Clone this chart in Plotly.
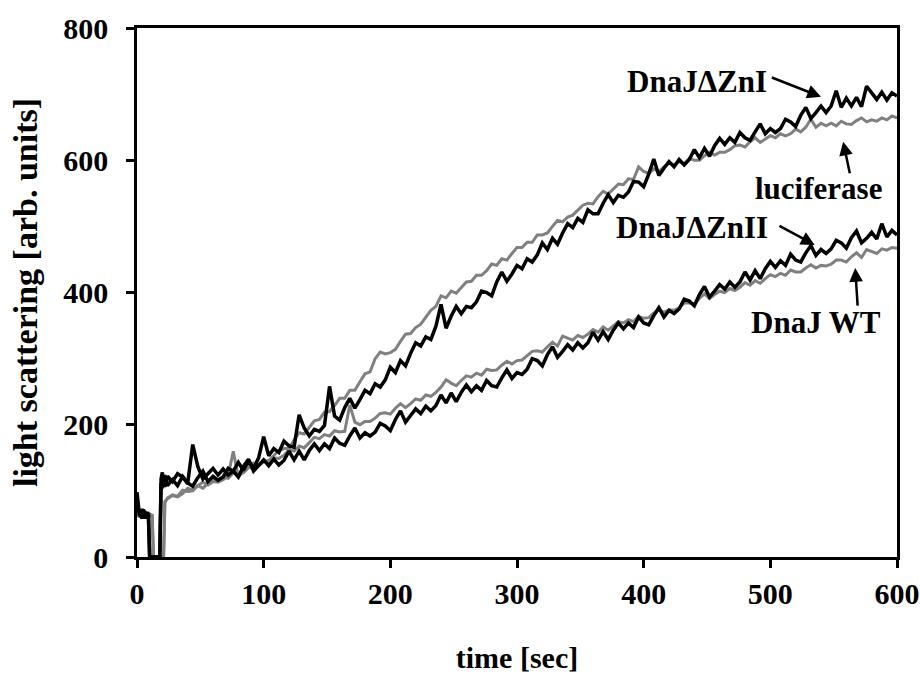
import plotly.graph_objects as go

# time grid [sec]
time_s = list(range(0, 25)) + list(range(28, 601, 4))

# luciferase alone (grey, upper)
luciferase = [72, 64, 60, 66, 62, 68, 63, 66, 61, 67, 64, 62, 65, 0, 0, 0, 0, 0, 0, 0, 0, 0, 84, 86, 88,
              93, 91, 96, 104, 101, 108, 104, 111, 118, 116,
              121, 119, 127, 125, 127, 135, 142, 138, 144, 146,
              153, 161, 164, 164, 177, 188, 186, 196, 206, 208,
              219, 220, 229, 240, 240, 252, 252, 265, 277, 280,
              300, 310, 307, 309, 314, 326, 337, 338, 347, 352,
              362, 373, 379, 395, 392, 402, 399, 408, 416, 417,
              426, 426, 433, 443, 441, 451, 449, 459, 468, 468,
              476, 476, 487, 487, 490, 500, 509, 507, 514, 517,
              524, 532, 535, 534, 545, 553, 549, 556, 564, 563,
              572, 571, 590, 583, 580, 587, 583, 590, 596, 593,
              598, 595, 603, 600, 600, 607, 612, 608, 612, 612,
              616, 622, 623, 620, 628, 634, 627, 632, 637, 634,
              640, 637, 640, 647, 643, 650, 662, 650, 656, 652,
              656, 652, 659, 655, 654, 660, 664, 658, 661, 659,
              664, 661, 667, 664]

# DnaJ dZnI (black, upper)
dnaj_dzn1 = [98, 75, 62, 70, 58, 72, 64, 68, 60, 66, 0, 0, 0, 0, 0, 0, 0, 0, 0, 118, 128, 112, 124, 110, 122,
             114, 126, 121, 111, 170, 137, 118, 126, 134, 124,
             133, 124, 130, 143, 131, 146, 134, 150, 182, 153,
             164, 158, 175, 168, 166, 215, 195, 183, 193, 190,
             199, 258, 213, 207, 226, 240, 225, 238, 252, 247,
             262, 257, 268, 287, 279, 297, 289, 308, 324, 319,
             333, 329, 349, 382, 346, 364, 379, 368, 379, 377,
             386, 402, 400, 395, 416, 431, 417, 428, 441, 436,
             451, 446, 457, 475, 465, 482, 473, 490, 504, 498,
             512, 506, 525, 519, 519, 535, 548, 536, 547, 544,
             552, 568, 567, 560, 579, 602, 577, 588, 598, 590,
             601, 593, 601, 616, 604, 618, 606, 622, 633, 624,
             634, 627, 642, 634, 630, 643, 655, 640, 648, 642,
             648, 662, 658, 651, 668, 680, 663, 672, 682, 672,
             682, 705, 680, 694, 682, 695, 681, 712, 703, 692,
             703, 691, 702, 697]

# DnaJ wild type (grey, lower)
dnaj_wt = [66, 61, 67, 63, 58, 65, 69, 62, 64, 60, 66, 63, 61, 0, 0, 0, 0, 0, 0, 0, 0, 0, 82, 86, 89,
           94, 92, 101, 99, 100, 108, 113, 109, 114, 113,
           117, 123, 160, 121, 130, 138, 132, 139, 145, 143,
           150, 149, 154, 162, 160, 168, 165, 173, 181, 179,
           185, 183, 191, 189, 190, 230, 204, 200, 205, 205,
           210, 217, 218, 216, 225, 232, 226, 232, 239, 237,
           245, 243, 249, 257, 268, 263, 259, 267, 274, 272,
           278, 275, 284, 282, 283, 290, 296, 292, 297, 298,
           304, 311, 312, 310, 318, 325, 319, 334, 331, 328,
           335, 332, 337, 344, 340, 348, 343, 350, 356, 354,
           359, 356, 364, 361, 362, 369, 374, 370, 374, 373,
           377, 384, 384, 382, 391, 398, 391, 397, 402, 400,
           406, 403, 408, 415, 411, 418, 414, 421, 427, 424,
           429, 426, 434, 431, 431, 437, 442, 437, 441, 440,
           443, 449, 449, 446, 454, 460, 453, 465, 462, 459,
           466, 464, 468, 467]

# DnaJ dZnII (black, lower)
dnaj_dzn2 = [90, 70, 66, 60, 73, 62, 70, 58, 68, 63, 0, 0, 0, 0, 0, 0, 0, 0, 0, 112, 104, 118, 106, 116, 108,
             117, 108, 122, 112, 107, 120, 130, 114, 122, 116,
             121, 134, 130, 121, 137, 148, 130, 138, 147, 138,
             148, 139, 146, 160, 147, 160, 147, 161, 171, 161,
             171, 164, 180, 172, 169, 183, 195, 180, 188, 183,
             189, 202, 198, 191, 208, 221, 204, 214, 224, 217,
             228, 221, 229, 245, 233, 248, 235, 249, 260, 250,
             259, 252, 267, 259, 257, 271, 283, 270, 279, 276,
             284, 300, 297, 289, 306, 318, 302, 311, 321, 313,
             324, 316, 324, 340, 328, 341, 329, 343, 354, 345,
             354, 347, 363, 354, 351, 365, 377, 363, 373, 368,
             375, 390, 387, 380, 397, 409, 393, 402, 412, 405,
             416, 408, 416, 431, 419, 433, 421, 436, 447, 438,
             448, 441, 458, 449, 446, 460, 471, 456, 465, 459,
             466, 479, 475, 467, 483, 493, 475, 482, 491, 481,
             504, 484, 494, 487]

x_ticks = [0, 100, 200, 300, 400, 500, 600]
y_ticks = [0, 200, 400, 600, 800]

GREY = "#808080"
BLACK = "#000000"
FONT = "Liberation Serif, Times New Roman, serif"

fig = go.Figure()
for name, vals, col, w in [("luciferase", luciferase, GREY, 3),
                           ("DnaJ WT", dnaj_wt, GREY, 3),
                           ("DnaJΔZnI", dnaj_dzn1, BLACK, 3.5),
                           ("DnaJΔZnII", dnaj_dzn2, BLACK, 3.5)]:
    fig.add_trace(go.Scatter(x=time_s, y=vals, mode="lines", name=name,
                             line=dict(color=col, width=w), showlegend=False))

# labels (text) and arrows (tail -> head in data coordinates)
labels = [("DnaJΔZnI", 442, 719), ("luciferase", 538, 558),
          ("DnaJΔZnII", 438, 498), ("DnaJ WT", 536, 354)]
arrows = [((500, 726), (540, 696)), ((563, 578), (557.5, 628)),
          ((506, 502), (535, 472)), ((569, 378), (567, 437))]

for txt, xv, yv in labels:
    fig.add_annotation(x=xv, y=yv, text=txt, showarrow=False,
                       font=dict(family=FONT, size=31, color="black", weight="bold"),
                       xanchor="center", yanchor="middle")
for (tx, ty), (hx, hy) in arrows:
    fig.add_annotation(x=hx, y=hy, ax=tx, ay=ty, axref="x", ayref="y",
                       xref="x", yref="y", text="", showarrow=True,
                       arrowhead=2, arrowsize=1.1, arrowwidth=2.5, arrowcolor="black")

axis_common = dict(showline=True, linecolor="black", linewidth=2.5, mirror=True,
                   ticks="outside", ticklen=8, tickwidth=2.5, tickcolor="black",
                   showgrid=False, zeroline=False, automargin=False,
                   tickfont=dict(family=FONT, size=30, color="black", weight="bold"))

fig.update_layout(
    width=920, height=675,
    margin=dict(l=137, r=23, t=28, b=118),
    paper_bgcolor="white", plot_bgcolor="white",
    font=dict(family=FONT, color="black", weight="bold"),
    xaxis=dict(range=[0, 600], tickvals=x_ticks, **axis_common,
               title=dict(text="time [sec]", standoff=39,
                          font=dict(family=FONT, size=30, color="black", weight="bold"))),
    yaxis=dict(range=[0, 800], tickvals=y_ticks, ticklabelstandoff=12, **axis_common,
               title=dict(text="light scattering [arb. units]", standoff=16,
                          font=dict(family=FONT, size=34, color="black", weight="bold"))),
)

fig.write_html("out.html")
